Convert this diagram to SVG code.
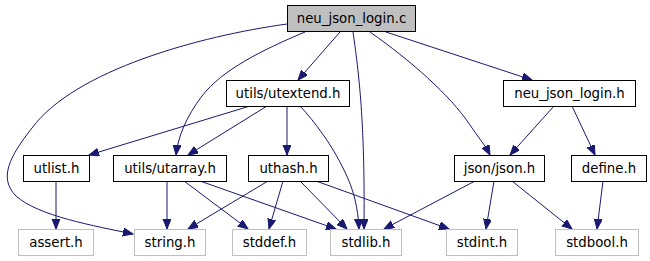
<svg xmlns="http://www.w3.org/2000/svg" width="650" height="261" viewBox="0 0 650 261">
  <style>
    .node rect { fill: #ffffff; stroke: #000000; stroke-width: 1; }
    .node.root rect { fill: #bfbfbf; }
    .node.sys rect { stroke: #bfbfbf; }
    .node text { font-family: "DejaVu Sans", sans-serif; font-size: 13.3px; fill: #000000; text-anchor: middle; }
    .edges path { fill: none; stroke: #191970; stroke-width: 1; marker-end: url(#arrow); }
  </style>
  <defs>
    <marker id="arrow" markerUnits="userSpaceOnUse" markerWidth="11" markerHeight="9" refX="10" refY="4" orient="auto">
      <path d="M0,0 L10,4 L0,8 z" fill="#191970" stroke="#191970" stroke-width="1"/>
    </marker>
  </defs>
  <rect width="650" height="261" fill="#ffffff"/>

  <g class="edges">
    <!-- neu_json_login.c -> string.h -->
    <path d="M287,24 C200,36 75,70 32,128 C10,156 -2,178 16,196 C38,216 95,226 133,234"/>
    <!-- neu_json_login.c -> utils/utarray.h -->
    <path d="M305,32 C262,50 222,70 202,96 C186,117 178,137 176,155"/>
    <!-- neu_json_login.c -> utils/utextend.h -->
    <path d="M340,32 L298,80"/>
    <!-- neu_json_login.c -> stdlib.h -->
    <path d="M353,32 C360,80 365,130 364,229"/>
    <!-- neu_json_login.c -> json/json.h -->
    <path d="M370,32 C410,60 450,95 470,125 C478,137 485,145 490,155"/>
    <!-- neu_json_login.c -> neu_json_login.h -->
    <path d="M386,32 L532,80"/>
    <!-- utils/utextend.h -> utlist.h -->
    <path d="M250,106 L89,155"/>
    <!-- utils/utextend.h -> utils/utarray.h -->
    <path d="M267,106 L188,155"/>
    <!-- utils/utextend.h -> uthash.h -->
    <path d="M287,106 L287,155"/>
    <!-- utils/utextend.h -> stdlib.h -->
    <path d="M300,106 C315,122 332,145 344,170 C354,190 358,208 359,229"/>
    <!-- neu_json_login.h -> json/json.h -->
    <path d="M554,106 L510,155"/>
    <!-- neu_json_login.h -> define.h -->
    <path d="M572,106 L595,155"/>
    <!-- utlist.h -> assert.h -->
    <path d="M56,181 L56,229"/>
    <!-- utils/utarray.h -> string.h -->
    <path d="M167,181 L167,229"/>
    <!-- utils/utarray.h -> stddef.h -->
    <path d="M184,181 L248,229"/>
    <!-- utils/utarray.h -> stdlib.h -->
    <path d="M200,181 L336,229"/>
    <!-- uthash.h -> string.h -->
    <path d="M268,181 L188,229"/>
    <!-- uthash.h -> stddef.h -->
    <path d="M283,181 L269,229"/>
    <!-- uthash.h -> stdlib.h -->
    <path d="M300,181 L347,229"/>
    <!-- uthash.h -> stdint.h -->
    <path d="M316,181 L449,229"/>
    <!-- json/json.h -> stdlib.h -->
    <path d="M475,181 L384,229"/>
    <!-- json/json.h -> stdint.h -->
    <path d="M494,181 L486,229"/>
    <!-- json/json.h -> stdbool.h -->
    <path d="M512,181 L572,229"/>
    <!-- define.h -> stdbool.h -->
    <path d="M603,181 L597,229"/>
  </g>

  <g id="node-neu_json_login_c" class="node root">
    <rect x="287.5" y="5.5" width="128" height="26"/>
    <text x="351.5" y="23">neu_json_login.c</text>
  </g>
  <g id="node-utextend_h" class="node">
    <rect x="226.5" y="80.5" width="123" height="26"/>
    <text x="288" y="98">utils/utextend.h</text>
  </g>
  <g id="node-neu_json_login_h" class="node">
    <rect x="503.5" y="80.5" width="132" height="26"/>
    <text x="569.5" y="98">neu_json_login.h</text>
  </g>
  <g id="node-utlist_h" class="node">
    <rect x="23.5" y="155.5" width="66" height="26"/>
    <text x="56.5" y="173">utlist.h</text>
  </g>
  <g id="node-utarray_h" class="node">
    <rect x="113.5" y="155.5" width="113" height="26"/>
    <text x="170" y="173">utils/utarray.h</text>
  </g>
  <g id="node-uthash_h" class="node">
    <rect x="248.5" y="155.5" width="80" height="26"/>
    <text x="288.5" y="173">uthash.h</text>
  </g>
  <g id="node-json_h" class="node">
    <rect x="454.5" y="155.5" width="90" height="26"/>
    <text x="499.5" y="173">json/json.h</text>
  </g>
  <g id="node-define_h" class="node">
    <rect x="571.5" y="155.5" width="75" height="26"/>
    <text x="609" y="173">define.h</text>
  </g>
  <g id="node-assert_h" class="node sys">
    <rect x="18.5" y="229.5" width="75" height="26"/>
    <text x="56" y="247">assert.h</text>
  </g>
  <g id="node-string_h" class="node sys">
    <rect x="134.5" y="229.5" width="71" height="26"/>
    <text x="170" y="247">string.h</text>
  </g>
  <g id="node-stddef_h" class="node sys">
    <rect x="232.5" y="229.5" width="74" height="26"/>
    <text x="269.5" y="247">stddef.h</text>
  </g>
  <g id="node-stdlib_h" class="node sys">
    <rect x="330.5" y="229.5" width="71" height="26"/>
    <text x="366" y="247">stdlib.h</text>
  </g>
  <g id="node-stdint_h" class="node sys">
    <rect x="446.5" y="229.5" width="71" height="26"/>
    <text x="482" y="247">stdint.h</text>
  </g>
  <g id="node-stdbool_h" class="node sys">
    <rect x="555.5" y="229.5" width="83" height="26"/>
    <text x="597" y="247">stdbool.h</text>
  </g>
</svg>
